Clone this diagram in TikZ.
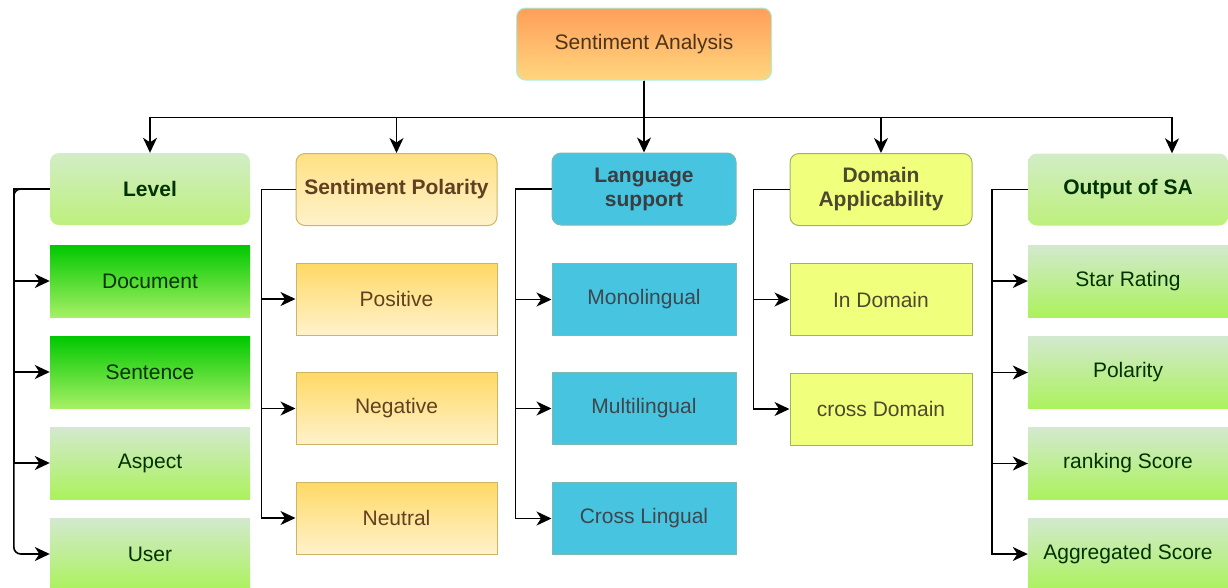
\documentclass[tikz,border=0pt]{standalone}
\usepackage{fontspec}
\setmainfont{Liberation Sans}
\usetikzlibrary{calc, positioning, arrows.meta}

\definecolor{saTop}{HTML}{FF9E5A}
\definecolor{saBot}{HTML}{FFD67E}
\definecolor{saLine}{HTML}{A8F0DC}
\definecolor{paleTop}{HTML}{D3E9CF}
\definecolor{paleBot}{HTML}{ABF25C}
\definecolor{hdTop}{HTML}{D2EDC6}
\definecolor{hdBot}{HTML}{BDF07C}
\definecolor{vivTop}{HTML}{00C800}
\definecolor{vivBot}{HTML}{A6F064}
\definecolor{goldTop}{HTML}{FFD965}
\definecolor{goldBot}{HTML}{FFF2CC}
\definecolor{goldLine}{HTML}{CDB565}
\definecolor{cyanFill}{HTML}{47C4DF}
\definecolor{cyanLine}{HTML}{7FB8B0}
\definecolor{limeFill}{HTML}{F0FF7C}
\definecolor{limeLine}{HTML}{A8B060}

\tikzset{
  box/.style={minimum width=200pt, minimum height=72pt, inner sep=2pt, align=center,
    font=\fontsize{21}{24}\selectfont},
  head/.style={box, rounded corners=9pt, font=\fontsize{21}{24}\selectfont\bfseries},
  % column styles
  grhd/.style={head, top color=hdTop, bottom color=hdBot, text=green!20!black},
  grviv/.style={box, top color=vivTop, bottom color=vivBot, text=green!20!black},
  grpale/.style={box, top color=paleTop, bottom color=paleBot, text=green!20!black},
  orhd/.style={head, minimum width=201pt, top color=goldTop!70!goldBot, bottom color=goldBot, draw=goldLine, line width=1pt, text=brown!50!black},
  orbox/.style={box, minimum width=201pt, top color=goldTop, bottom color=goldBot, draw=goldLine, line width=1pt, text=brown!50!black},
  blhd/.style={head, minimum width=184pt, fill=cyanFill, draw=cyanLine, line width=1pt, text=cyan!15!black},
  blbox/.style={box, minimum width=184pt, fill=cyanFill, draw=cyanLine, line width=1pt, text=cyan!20!black},
  dmhd/.style={head, minimum width=182pt, fill=limeFill, draw=limeLine, line width=1pt, text=olive!40!black},
  dmbox/.style={box, minimum width=182pt, fill=limeFill, draw=limeLine, line width=1pt, text=olive!40!black},
  arr/.style={line width=1.6pt, -{Stealth[length=15pt,width=14pt,inset=4.5pt]}},
}

\begin{document}
\begin{tikzpicture}[x=1pt,y=-1pt]
\useasboundingbox (0,0) rectangle (1228,587);

\node[head, minimum width=255pt, top color=saTop, bottom color=saBot, draw=saLine,
  line width=1pt, font=\fontsize{21}{24}\selectfont, text=brown!40!black] (sa) at (644,44) {Sentiment Analysis};

% headers
\node[grhd] (lvl) at (150,189) {Level};
\node[orhd] (pol) at (396.5,189.5) {Sentiment Polarity};
\node[blhd] (lang) at (644,189) {Language\\support};
\node[dmhd] (dom) at (881,189.5) {Domain\\Applicability};
\node[grhd] (out) at (1128,189.5) {Output of SA};

\foreach \h in {lvl,pol,lang,dom}
  \draw[arr] (sa.south) -- ++(0,37) -| (\h.north);
\draw[arr] (sa.south) -- ++(0,37) -| ($(out.north)+(44,0)$);

% Level
\foreach \n/\s/\t/\y in {doc/grviv/Document/281, sen/grviv/Sentence/372, asp/grpale/Aspect/463}
{
  \node[\s] (\n) at (150,\y) {\t};
  \draw[arr] (lvl.west) -- ++(-36,0) |- (\n.west);
}
\node[grpale] (usr) at (150,554) {User};
\draw[arr, rounded corners=7pt] (lvl.west) -- ++(-36,0) |- (usr.west);

% Sentiment Polarity
\foreach \n/\t/\y in {pos/Positive/299, neg/Negative/408.5, neu/Neutral/518}
{
  \node[orbox] (\n) at (396.5,\y) {\t};
  \draw[arr] (pol.west) -- ++(-34,0) |- (\n.west);
}

% Language support
\foreach \n/\t/\y in {mono/Monolingual/299.5, multi/Multilingual/408.5, cross/Cross Lingual/518.5}
{
  \node[blbox] (\n) at (644,\y) {\t};
  \draw[arr] (lang.west) -- ++(-36,0) |- (\n.west);
}

% Domain Applicability
\foreach \n/\t/\y in {indom/In Domain/299.5, crdom/cross Domain/409}
{
  \node[dmbox] (\n) at (881,\y) {\t};
  \draw[arr] (dom.west) -- ++(-36,0) |- (\n.west);
}

% Output of SA
\foreach \n/\t/\y in {star/Star Rating/281, plr/Polarity/372.5, rank/ranking Score/463.5, aggr/Aggregated Score/554}
{
  \node[grpale] (\n) at (1128,\y) {\t};
  \draw[arr] (out.west) -- ++(-36,0) |- (\n.west);
}
\end{tikzpicture}
\end{document}
